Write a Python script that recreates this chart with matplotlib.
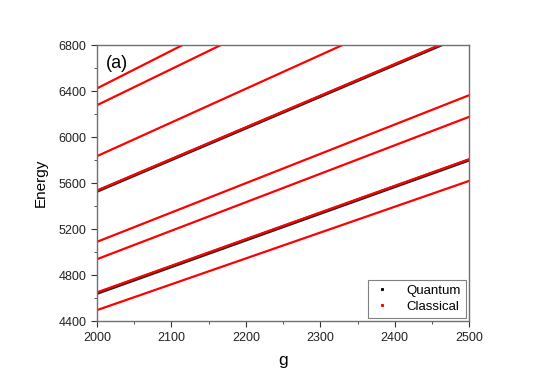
import matplotlib.pyplot as plt
from matplotlib.ticker import MultipleLocator
from matplotlib.lines import Line2D

plt.rcParams['font.family'] = ['Liberation Sans', 'DejaVu Sans']

# energy levels: value at g=2000 and at g=2500
g_ends = [2000, 2500]
classical_start = [4496, 4650, 4939, 5090, 5535, 5835, 6278, 6424]
classical_end = [5620, 5808, 6177, 6365, 6910, 7300, 7850, 8065]
quantum_start = [4642, 5530]
quantum_end = [5802, 6905]

fig = plt.figure(figsize=(5.45, 3.86), dpi=100)
ax = fig.add_axes([0.178, 0.168, 0.683, 0.715])

for s, e in zip(quantum_start, quantum_end):
    ax.plot(g_ends, [s, e], color='#222222', lw=2.3, solid_capstyle='butt')
for s, e in zip(classical_start, classical_end):
    ax.plot(g_ends, [s, e], color='#ff0000', lw=1.6, solid_capstyle='butt')

ax.set_xlim(2000, 2500)
ax.set_ylim(4400, 6800)
ax.xaxis.set_major_locator(MultipleLocator(100))
ax.xaxis.set_minor_locator(MultipleLocator(50))
ax.yaxis.set_major_locator(MultipleLocator(400))
ax.yaxis.set_minor_locator(MultipleLocator(200))
ax.tick_params(which='both', direction='out', labelsize=9, color='#333333',
               labelcolor='#222222')
ax.tick_params(which='major', length=4)
ax.tick_params(which='minor', length=2.5)
for sp in ax.spines.values():
    sp.set_color('#707070')
    sp.set_linewidth(1.0)

ax.set_xlabel('g', fontsize=12.5, labelpad=7)
ax.set_ylabel('Energy', fontsize=11, labelpad=8)
ax.text(0.025, 0.965, '(a)', transform=ax.transAxes, fontsize=13, va='top')

handles = [
    Line2D([], [], ls='none', marker='s', ms=1.2, color='black', label='Quantum'),
    Line2D([], [], ls='none', marker='s', ms=1.2, color='red', label='Classical'),
]
leg = ax.legend(handles=handles, loc='lower right', fontsize=9.5, fancybox=False,
                framealpha=1, edgecolor='#808080', borderaxespad=0.25,
                handlelength=1.3, handletextpad=1.2, labelspacing=0.25,
                borderpad=0.4)
leg.get_frame().set_linewidth(0.8)

fig.savefig('out.png', dpi=100)
